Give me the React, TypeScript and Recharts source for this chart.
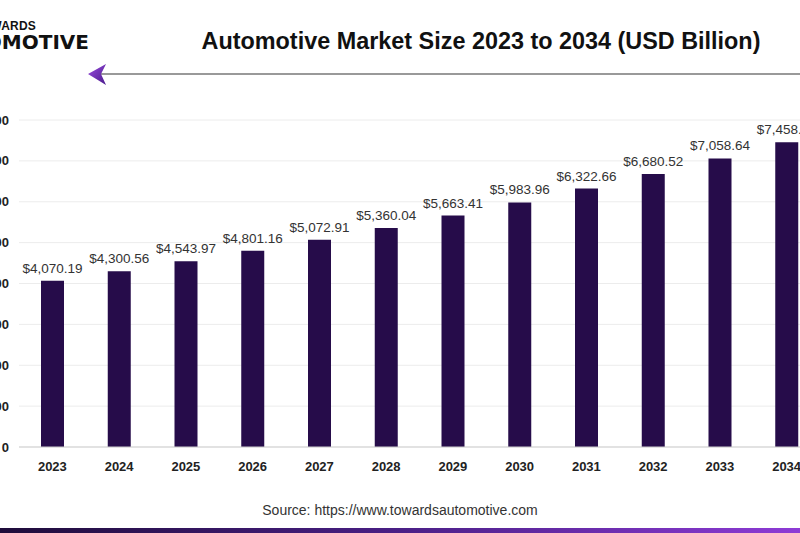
import { BarChart, Bar, XAxis, YAxis, CartesianGrid, LabelList } from 'recharts';

const years = ['2023', '2024', '2025', '2026', '2027', '2028', '2029', '2030', '2031', '2032', '2033', '2034'];
const marketSize = [4070.19, 4300.56, 4543.97, 4801.16, 5072.91, 5360.04, 5663.41, 5983.96, 6322.66, 6680.52, 7058.64, 7458.21];
const yTicks = [0, 1000, 2000, 3000, 4000, 5000, 6000, 7000, 8000];

const chartData = years.map((year, i) => ({ year, value: marketSize[i] }));

const money = (v: number) =>
    '$' + v.toLocaleString('en-US', { minimumFractionDigits: 2, maximumFractionDigits: 2 });

const font = '"Liberation Sans", Arial, sans-serif';

export default function App() {
    return (
        <div style={{ position: 'fixed', left: 0, top: 0, width: 800, height: 533, overflow: 'hidden', background: '#fff', fontFamily: font }}>
            {/* logo, cut off on the left like the source image */}
            <div style={{ position: 'absolute', right: 764, top: 19, fontSize: 12, fontWeight: 900, color: '#111', letterSpacing: 0.2, whiteSpace: 'nowrap', lineHeight: '14px' }}>
                TOWARDS
            </div>
            <div style={{ position: 'absolute', right: 711, top: 31, fontSize: 20, fontWeight: 900, color: '#111', whiteSpace: 'nowrap', fontFamily: '"DejaVu Sans", sans-serif', lineHeight: '22px' }}>
                AUTOMOTIVE
            </div>

            <div style={{ position: 'absolute', left: 0, width: 962, top: 27, textAlign: 'center', fontSize: 23.4, fontWeight: 700, color: '#111', whiteSpace: 'nowrap', lineHeight: '28px' }}>
                Automotive Market Size 2023 to 2034 (USD Billion)
            </div>

            <svg width={800} height={100} style={{ position: 'absolute', left: 0, top: 0 }}>
                <defs>
                    <linearGradient id="arrowFill" x1="0" y1="0" x2="1" y2="1">
                        <stop offset="0%" stopColor="#9b4de0" />
                        <stop offset="100%" stopColor="#4a1a8c" />
                    </linearGradient>
                </defs>
                <line x1={100} y1={74} x2={800} y2={74} stroke="#777" strokeWidth={1.5} />
                <path d="M88 74 L106 64 L101 74 L106 85 Z" fill="url(#arrowFill)" />
            </svg>

            <div style={{ position: 'absolute', left: -60, top: 0 }}>
                <BarChart width={900} height={533} data={chartData} margin={{ top: 120, right: 20, bottom: 56, left: 0 }}>
                    <CartesianGrid vertical={false} stroke="#ececec" />
                    <XAxis
                        dataKey="year"
                        height={30}
                        tickLine={false}
                        axisLine={{ stroke: '#cfcfcf' }}
                        tickMargin={9}
                        tick={{ fill: '#222', fontSize: 13, fontWeight: 700, fontFamily: font }}
                    />
                    <YAxis
                        width={79}
                        domain={[0, 8000]}
                        ticks={yTicks}
                        axisLine={false}
                        tickLine={false}
                        tickMargin={4}
                        tickFormatter={(v: number) => (v === 0 ? '0' : '$' + v.toLocaleString('en-US'))}
                        tick={{ fill: '#222', fontSize: 13, fontWeight: 700, fontFamily: font }}
                    />
                    <Bar dataKey="value" fill="#260c4a" barSize={23} isAnimationActive={false}>
                        <LabelList
                            dataKey="value"
                            position="top"
                            offset={8}
                            formatter={(v: any) => money(Number(v))}
                            style={{ fill: '#333', fontSize: 13.5, fontFamily: font }}
                        />
                    </Bar>
                </BarChart>
            </div>

            <div style={{ position: 'absolute', left: 0, width: 800, top: 502, textAlign: 'center', fontSize: 14, color: '#333', whiteSpace: 'nowrap', lineHeight: '16px' }}>
                Source: https://www.towardsautomotive.com
            </div>
            <div style={{ position: 'absolute', left: 0, top: 528, width: 800, height: 5, background: 'linear-gradient(90deg, #1e0c3a 0%, #4a1f86 50%, #8e3bd6 100%)' }} />
        </div>
    );
}
